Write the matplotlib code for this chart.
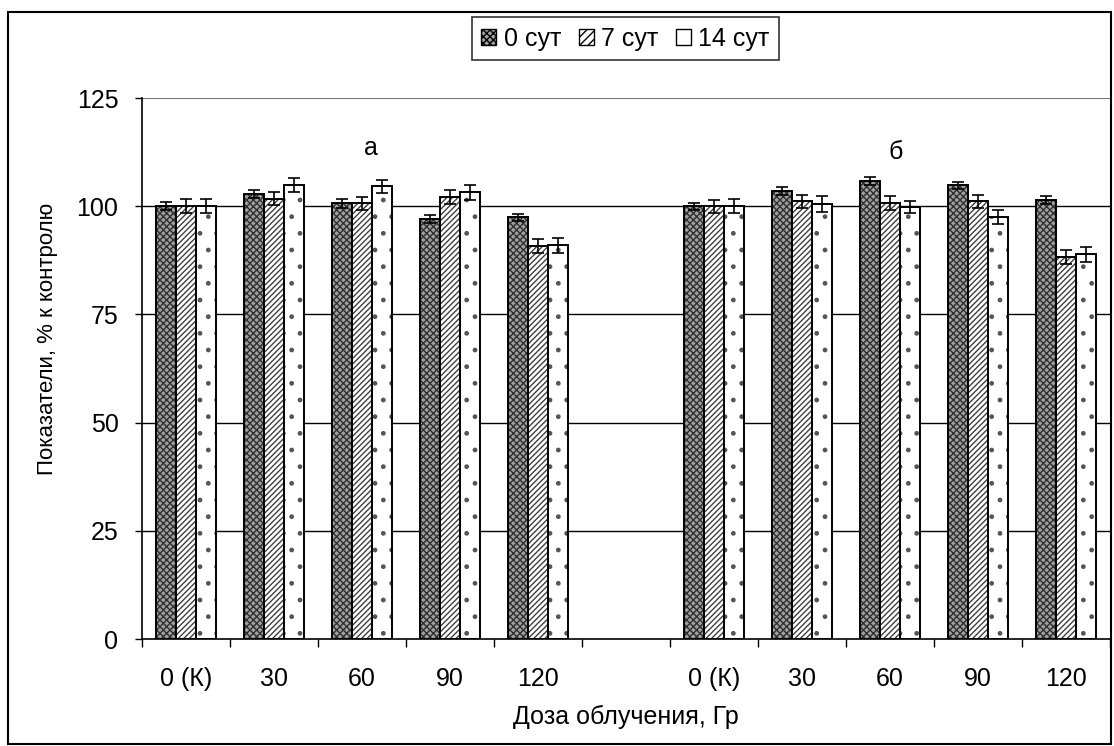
import numpy as np
import matplotlib.pyplot as plt
from matplotlib.patches import Rectangle, Patch

plt.rcParams['font.family'] = ['Liberation Sans', 'DejaVu Sans']
plt.rcParams['hatch.linewidth'] = 1.0

# categories (empty slot separates panels a and b)
labels = ['0 (К)', '30', '60', '90', '120', '', '0 (К)', '30', '60', '90', '120']
series = ['0 сут', '7 сут', '14 сут']

# values, % of control (nan = empty slot)
day0 = [100.0, 102.9, 100.7, 97.0, 97.4, np.nan, 100.0, 103.6, 105.9, 104.8, 101.5]
day7 = [100.0, 101.7, 100.7, 102.2, 90.9, np.nan, 100.0, 101.1, 100.8, 101.2, 88.2]
day14 = [100.0, 105.0, 104.6, 103.2, 91.0, np.nan, 100.0, 100.5, 99.8, 97.5, 88.9]

err0 = [0.9, 0.9, 1.0, 0.9, 0.9, np.nan, 0.8, 0.9, 0.9, 0.9, 0.9]
err7 = [1.6, 1.5, 1.5, 1.6, 1.6, np.nan, 1.5, 1.5, 1.6, 1.5, 1.6]
err14 = [1.6, 1.6, 1.5, 1.8, 1.7, np.nan, 1.6, 1.8, 1.3, 1.7, 1.7]

FS = 18

fig = plt.figure(figsize=(11.14, 7.46), dpi=100)
ax = fig.add_axes([0.1275, 0.1434, 0.8689, 0.7252])

x = np.arange(len(labels))
w = 0.227
# (facecolor, hatch, hatch colour)
styles = [('#a0a0a0', 'xxxxx', '#303030'),
          ('white', '//////', '#404040'),
          ('white', '.', '#555555')]
vals = [day0, day7, day14]
errs = [err0, err7, err14]
for i in range(3):
    fc, hatch, hc = styles[i]
    # hatch layer, then black outline on top
    ax.bar(x + (i - 1) * w, vals[i], width=w, facecolor=fc, hatch=hatch,
           edgecolor=hc, linewidth=0, zorder=3)
    ax.bar(x + (i - 1) * w, vals[i], width=w, fill=False, edgecolor='black',
           linewidth=1.4, zorder=3.5)
    ax.errorbar(x + (i - 1) * w, vals[i], yerr=errs[i], fmt='none', ecolor='black',
                elinewidth=1.2, capsize=4, capthick=1.2, zorder=4)

# legend handles
leg_hatch = ['xxxxx', '////', None]
handles = [Patch(facecolor=styles[i][0], hatch=leg_hatch[i], edgecolor='black',
                 linewidth=1.0, label=series[i]) for i in range(3)]

ax.set_xlim(-0.5, len(labels) - 0.5)
ax.set_ylim(0, 125)
ax.set_yticks([0, 25, 50, 75, 100, 125])
for yv in [25, 50, 75, 100]:
    ax.axhline(yv, color='black', linewidth=1.0, zorder=1)
ax.axhline(125, color='#777777', linewidth=0.8, zorder=1)
ax.set_xticks(x)
ax.set_xticklabels(labels)
ax.set_xticks(np.arange(-0.5, len(labels), 1), minor=True)
ax.tick_params(axis='x', which='major', length=0, pad=20, labelsize=FS)
ax.tick_params(axis='x', which='minor', length=6, width=1)
ax.tick_params(axis='y', length=5, width=1, labelsize=FS, direction='out', pad=12)
for s in ['top', 'right']:
    ax.spines[s].set_visible(False)
ax.spines['left'].set_linewidth(1.2)
ax.spines['bottom'].set_linewidth(1.2)
ax.set_ylabel('Показатели, % к контролю', fontsize=16)
ax.yaxis.set_label_coords(-0.087, 0.555)
ax.set_xlabel('Доза облучения, Гр', fontsize=FS, labelpad=10)

ax.text(2.1, 113.4, 'а', fontsize=FS, ha='center', va='center')
ax.text(8.06, 112.5, 'б', fontsize=FS, ha='center', va='center')

leg = fig.legend(handles=handles, loc='upper center', bbox_to_anchor=(0.5615, 0.977), ncol=3,
                 fontsize=FS, frameon=True, fancybox=False, edgecolor='black',
                 handlelength=0.6, handleheight=0.6, handletextpad=0.3,
                 columnspacing=0.7, borderpad=0.38, borderaxespad=0)
leg.get_frame().set_linewidth(1.2)

fig.patches.append(Rectangle((0.0072, 0.0027), 0.990, 0.981, transform=fig.transFigure,
                             fill=False, edgecolor='black', linewidth=1.5))

fig.savefig('out.png', dpi=100)
